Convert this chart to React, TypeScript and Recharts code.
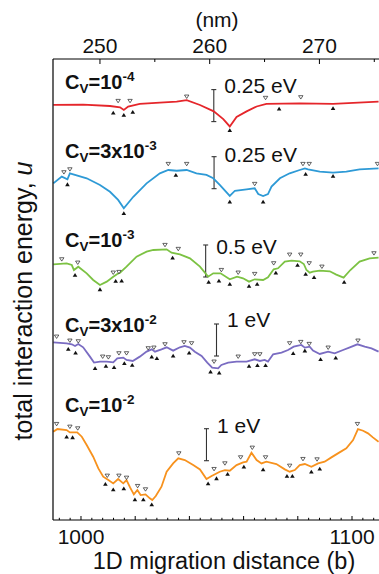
import React from 'react';
import { ComposedChart, Line, Scatter, XAxis, YAxis, ReferenceLine, Customized } from 'recharts';

const FONT = "'Liberation Sans', Arial, Helvetica, sans-serif";

// x = 1D migration distance (b), u = total interaction energy (eV, relative per trace)
const redTrace: [number, number][] = [
  [989.8, 0], [1000.8, 0.002], [1010.7, -0.008], [1014.4, -0.018], [1015.8, -0.039], [1017.4, -0.013],
  [1021.7, 0.008], [1029.1, 0.018], [1035.3, 0.026], [1039.0, 0.037], [1043.9, 0.0], [1049.0, -0.05],
  [1052.5, -0.11], [1054.9, -0.168], [1057.4, -0.094], [1061.1, -0.05], [1064.8, -0.012], [1068.4, 0.008],
  [1080.7, 0.013], [1093.0, 0.008], [1109.8, 0.026],
];
const redMax: [number, number][] = [[1013.7, 0.031], [1018.1, 0.031], [1039.0, 0.065], [1068.1, 0.055], [1081.1, 0.06]];
const redMin: [number, number][] = [[1011.9, -0.06], [1015.8, -0.078], [1019.1, -0.055], [1054.9, -0.198], [1073.1, -0.03], [1093.0, -0.026]];

const blueTrace: [number, number][] = [
  [989.8, 0], [992.9, 0.052], [995.0, 0.031], [995.9, 0.078], [1002.1, 0.039], [1007.0, -0.013],
  [1010.7, -0.066], [1013.7, -0.13], [1015.8, -0.195], [1019.3, -0.105], [1024.2, 0], [1029.1, 0.078],
  [1032.2, 0.104], [1035.3, 0.098], [1039.0, 0.104], [1042.6, 0.078], [1046.3, 0.065], [1048.8, 0.039],
  [1051.2, -0.013], [1054.9, -0.099], [1056.8, -0.058], [1061.1, -0.047], [1064.1, -0.039], [1065.4, -0.084],
  [1067.2, -0.099], [1069.0, -0.084], [1070.3, -0.026], [1073.4, 0.039], [1077.0, 0.078], [1080.7, 0.104],
  [1082.6, 0.117], [1083.8, 0.109], [1088.1, 0.091], [1093.0, 0.083], [1097.9, 0.091], [1102.8, 0.109],
  [1109.8, 0.117],
];
const blueMax: [number, number][] = [[993.7, 0.086], [995.9, 0.109], [1032.2, 0.151], [1039.0, 0.151], [1064.1, -0.005], [1081.9, 0.151], [1084.2, 0.151], [1109.4, 0.151]];
const blueMin: [number, number][] = [[995.0, -0.008], [1015.8, -0.234], [1035.0, 0.065], [1054.9, -0.144], [1067.2, -0.144], [1082.9, 0.073], [1093.0, 0.057]];

const greenTrace: [number, number][] = [
  [989.8, 0], [994.7, 0.016], [996.6, -0.011], [997.4, -0.089], [999.0, -0.037], [1002.1, -0.141],
  [1004.5, -0.245], [1007.0, -0.323], [1009.5, -0.271], [1011.9, -0.193], [1013.4, -0.151], [1014.4, -0.13],
  [1016.8, -0.037], [1020.5, 0.12], [1024.2, 0.198], [1026.7, 0.224], [1031.6, 0.234], [1033.4, 0.182],
  [1036.5, 0.156], [1040.2, 0.094], [1043.9, -0.037], [1046.9, -0.193], [1048.8, -0.141], [1051.5, -0.141],
  [1054.9, -0.234], [1057.6, -0.193], [1059.8, -0.219], [1062.0, -0.271], [1064.1, -0.234], [1067.2, -0.245],
  [1069.0, -0.203], [1071.1, -0.078], [1072.7, -0.062], [1075.2, 0.042], [1077.7, 0.057], [1080.7, 0.047],
  [1082.2, 0.005], [1083.2, -0.089], [1084.4, -0.13], [1085.6, -0.115], [1088.1, -0.099], [1091.8, -0.109],
  [1094.2, -0.161], [1096.9, -0.208], [1099.4, -0.089], [1102.8, 0.042], [1106.5, 0.094], [1109.8, 0.104],
];
const greenMax: [number, number][] = [
  [992.9, 0.078], [998.8, 0.026], [1011.9, -0.13], [1014.0, -0.12], [1031.0, 0.302], [1035.9, 0.24],
  [1051.8, -0.089], [1058.0, -0.13], [1064.1, -0.151], [1071.1, 0.016], [1077.0, 0.151], [1081.1, 0.151],
  [1084.2, 0.016], [1088.9, -0.037], [1108.1, 0.172],
];
const greenMin: [number, number][] = [
  [997.8, -0.167], [1007.0, -0.391], [1012.8, -0.261], [1015.0, -0.255], [1033.8, 0.104], [1047.1, -0.276],
  [1050.9, -0.255], [1054.9, -0.307], [1062.0, -0.339], [1065.0, -0.307], [1071.9, -0.13], [1079.9, -0.011],
  [1082.9, -0.151], [1086.0, -0.203], [1097.1, -0.276],
];

const purpleTrace: [number, number][] = [
  [989.8, 0], [994.7, -0.031], [996.6, -0.063], [997.8, -0.115], [999.0, -0.052], [1000.8, -0.156],
  [1003.3, -0.448], [1004.8, -0.635], [1007.0, -0.604], [1009.5, -0.604], [1011.9, -0.625], [1013.4, -0.5],
  [1015.6, -0.479], [1016.8, -0.552], [1019.1, -0.583], [1021.7, -0.448], [1024.2, -0.292], [1026.1, -0.219],
  [1027.3, -0.292], [1029.7, -0.219], [1031.6, -0.156], [1034.0, -0.26], [1036.5, -0.156], [1038.3, -0.115],
  [1040.2, -0.167], [1042.0, -0.292], [1044.5, -0.427], [1046.6, -0.635], [1048.4, -0.792], [1050.6, -0.813],
  [1051.8, -0.708], [1054.3, -0.635], [1057.4, -0.604], [1061.1, -0.604], [1064.1, -0.531], [1066.0, -0.583],
  [1067.8, -0.552], [1069.0, -0.604], [1070.9, -0.375], [1074.0, -0.323], [1076.4, -0.24], [1078.5, -0.135],
  [1081.3, -0.083], [1082.6, -0.167], [1084.4, -0.135], [1085.6, -0.26], [1088.1, -0.365], [1091.2, -0.292],
  [1093.6, -0.344], [1096.7, -0.24], [1099.2, -0.156], [1102.0, -0.063], [1104.7, -0.135], [1107.2, -0.188],
  [1109.8, -0.292],
];
const purpleMax: [number, number][] = [
  [991.0, 0.177], [995.9, 0.052], [999.0, 0.031], [1008.0, -0.448], [1010.1, -0.469], [1014.0, -0.344],
  [1016.8, -0.344], [1024.8, -0.188], [1026.9, -0.167], [1031.0, -0.063], [1038.0, 0], [1040.8, -0.031],
  [1049.1, -0.604], [1058.0, -0.448], [1064.1, -0.375], [1066.0, -0.375], [1077.0, -0.031], [1081.1, 0.01],
  [1084.2, -0.052], [1091.2, -0.167], [1102.2, 0.052],
];
const purpleMin: [number, number][] = [
  [995.3, -0.208], [998.0, -0.323], [1005.2, -0.813], [1009.2, -0.74], [1012.2, -0.781], [1016.0, -0.656],
  [1018.9, -0.708], [1026.1, -0.448], [1028.0, -0.5], [1034.0, -0.417], [1039.9, -0.323], [1047.8, -0.917],
  [1051.0, -0.948], [1062.0, -0.74], [1065.1, -0.719], [1068.1, -0.719], [1078.3, -0.344], [1082.6, -0.26],
  [1088.4, -0.531], [1094.0, -0.479],
];

const orangeTrace: [number, number][] = [
  [989.8, 0], [991.3, 0.083], [994.7, 0.052], [995.9, -0.021], [998.6, -0.021], [1000.3, -0.156],
  [1002.1, -0.417], [1004.5, -0.781], [1006.4, -1.146], [1008.2, -1.406], [1010.1, -1.51], [1011.9, -1.615],
  [1013.7, -1.479], [1015.6, -1.615], [1016.8, -1.51], [1018.1, -1.74], [1019.5, -1.958], [1020.8, -1.823],
  [1022.0, -1.979], [1023.8, -1.958], [1025.4, -2.083], [1026.3, -2.135], [1027.6, -2.01], [1029.7, -1.719],
  [1031.6, -1.25], [1034.0, -0.99], [1035.9, -0.833], [1038.3, -0.885], [1041.4, -1.042], [1043.9, -1.177],
  [1046.3, -1.479], [1048.2, -1.385], [1051.2, -1.25], [1053.1, -1.198], [1054.9, -1.219], [1057.4, -1.042],
  [1059.8, -0.958], [1061.1, -0.938], [1062.9, -0.656], [1064.8, -0.885], [1066.6, -0.99], [1068.4, -0.938],
  [1072.1, -1.01], [1075.2, -1.177], [1077.0, -1.25], [1078.9, -1.198], [1080.7, -1.042], [1082.6, -1.01],
  [1085.0, -1.094], [1087.5, -0.99], [1089.9, -0.938], [1092.4, -0.802], [1094.8, -0.677], [1097.9, -0.521],
  [1100.4, -0.26], [1102.2, 0.083], [1104.1, 0.031], [1105.9, -0.052], [1107.7, -0.177], [1109.8, -0.313],
];
const orangeMax: [number, number][] = [
  [991.0, 0.24], [995.9, 0.156], [998.8, 0.104], [1009.7, -1.375], [1014.0, -1.375], [1016.8, -1.438],
  [1020.9, -1.698], [1023.8, -1.802], [1036.1, -0.677], [1049.1, -1.167], [1053.1, -0.99], [1058.9, -0.802],
  [1063.2, -0.5], [1068.1, -0.802], [1077.0, -1.063], [1081.9, -0.854], [1087.1, -0.865], [1102.0, 0.24],
];
const orangeMin: [number, number][] = [
  [994.7, -0.156], [996.9, -0.177], [1009.0, -1.635], [1011.9, -1.802], [1015.8, -1.771], [1019.9, -2.115],
  [1023.0, -2.115], [1026.1, -2.271], [1046.9, -1.615], [1050.0, -1.458], [1054.1, -1.323], [1060.1, -1.094],
  [1067.2, -1.177], [1076.0, -1.385], [1078.0, -1.385], [1085.0, -1.25], [1088.1, -1.156],
];

// scale bars (x position in b, lower/upper energy in eV) and labels
const scaleBarB = [1049.0, 1049.1, 1046.0, 1050.0, 1046.3];
const scaleBarLo = [-0.13, -0.042, -0.198, -0.428, -0.906];
const scaleBarHi = [0.12, 0.208, 0.302, 0.572, 0.094];
const scaleBarText = ['0.25 eV', '0.25 eV', '0.5 eV', '1 eV', '1 eV'];

// C_V labels: mantissa and exponent
const cvMantissa = ['10', '3x10', '10', '3x10', '10'];
const cvExponent = ['-4', '-3', '-3', '-2', '-2'];

// axis ticks
const bottomTicks = [992, 996, 1000, 1004, 1008, 1012, 1016, 1020, 1024, 1028, 1032, 1036, 1040, 1044, 1048, 1052, 1056, 1060, 1064, 1068, 1072, 1076, 1080, 1084, 1088, 1092, 1096, 1100, 1104, 1108];
const bottomMajor = [1000, 1020, 1040, 1060, 1080, 1100];
const bottomLabels = [1000, 1100];
const topTicks = [250, 255, 260, 265, 270, 275];
const topLabels = [250, 260, 270];

const toRows = (arr: [number, number][]) => arr.map(([b, u]) => ({ b, u }));
const topTickRows = topTicks.map((nm) => ({ nm, u: 0 }));

const SERIES = [
  { id: 'red', trace: redTrace, max: redMax, min: redMin, color: '#e5262b', domain: [-3.242, 0.359], labelY: 89, labelDy: 3 },
  { id: 'blue', trace: blueTrace, max: blueMax, min: blueMin, color: '#2e9ad6', domain: [-2.63, 0.971], labelY: 158, labelDy: 5 },
  { id: 'green', trace: greenTrace, max: greenMax, min: greenMin, color: '#7cc243', domain: [-3.995, 3.208], labelY: 247, labelDy: 9 },
  { id: 'purple', trace: purpleTrace, max: purpleMax, min: purpleMin, color: '#7a6cc2', domain: [-5.553, 8.853], labelY: 332, labelDy: 3 },
  { id: 'orange', trace: orangeTrace, max: orangeMax, min: orangeMin, color: '#f7921e', domain: [-2.759, 11.647], labelY: 412, labelDy: 4 },
];

const OpenTri = (p: any) => {
  const { cx, cy } = p;
  if (cx == null || cy == null) return <g />;
  return (
    <polygon
      points={`${cx - 2.2},${cy - 1.6} ${cx + 2.2},${cy - 1.6} ${cx},${cy + 1.8}`}
      fill="#fff"
      stroke="#222"
      strokeWidth={0.7}
    />
  );
};

const FilledTri = (p: any) => {
  const { cx, cy } = p;
  if (cx == null || cy == null) return <g />;
  return <polygon points={`${cx - 2.3},${cy + 1.8} ${cx + 2.3},${cy + 1.8} ${cx},${cy - 2}`} fill="#111" />;
};

const Invisible = () => <g />;

// inward tick mark drawn from a full-height reference line
const makeTickShape = (len: number, side: 'top' | 'bottom') => (p: any) => {
  const { x1, y1, y2 } = p;
  if (x1 == null || y1 == null || y2 == null) return <g />;
  const top = Math.min(y1, y2);
  const bot = Math.max(y1, y2);
  return side === 'bottom' ? (
    <line x1={x1} x2={x1} y1={bot} y2={bot - len} stroke="#000" strokeWidth={1} />
  ) : (
    <line x1={x1} x2={x1} y1={top} y2={top + len} stroke="#000" strokeWidth={1} />
  );
};

const BottomLabel = (props: any) => {
  const { x, payload } = props;
  const v = payload.value;
  if (!bottomLabels.includes(v)) return <g />;
  return (
    <text x={x} y={543.5} textAnchor="middle" fontSize={21} fontFamily={FONT} fill="#111">
      {v}
    </text>
  );
};

const TopLabel = (props: any) => {
  const { x, payload } = props;
  const v = payload.value;
  if (!topLabels.includes(v)) return <g />;
  return (
    <text x={x} y={53} textAnchor="middle" fontSize={21} fontFamily={FONT} fill="#111">
      {v}
    </text>
  );
};

const makeBarShape = (text: string, dy: number) => (p: any) => {
  const { x1, y1, x2, y2 } = p;
  if (x1 == null) return <g />;
  const top = Math.min(y1, y2);
  const bot = Math.max(y1, y2);
  return (
    <g>
      <line x1={x1} x2={x2} y1={top} y2={bot} stroke="#333" strokeWidth={1.1} />
      <line x1={x1 - 2.5} x2={x1 + 2.5} y1={top} y2={top} stroke="#333" strokeWidth={1.1} />
      <line x1={x1 - 2.5} x2={x1 + 2.5} y1={bot} y2={bot} stroke="#333" strokeWidth={1.1} />
      <text x={x1 + 10.5} y={top + dy} fontSize={21} fontFamily={FONT} fill="#111">
        {text}
      </text>
    </g>
  );
};

const Annotations = () => (
  <g fontFamily={FONT} fill="#111">
    <text x={217} y={27} textAnchor="middle" fontSize={21}>(nm)</text>
    <text x={224} y={569} textAnchor="middle" fontSize={23.5}>1D migration distance (b)</text>
    <text x={32} y={301} textAnchor="middle" fontSize={25} transform="rotate(-90 32 301)">
      total interaction energy, <tspan fontStyle="italic">u</tspan>
    </text>
    {SERIES.map((s, i) => (
      <text key={s.id} x={65} y={s.labelY} fontSize={20} fontWeight="bold">
        C
        <tspan fontSize={13.5} dy={4}>V</tspan>
        <tspan dy={-4}>={cvMantissa[i]}</tspan>
        <tspan fontSize={13.5} dy={-8}>{cvExponent[i]}</tspan>
      </text>
    ))}
  </g>
);

const B_DOMAIN = [989.67, 1109.96];

export default function App() {
  return (
    <div style={{ position: 'absolute', left: 0, top: 0, width: 379, height: 574, background: '#fff' }}>
      <ComposedChart width={379} height={574} margin={{ top: 29, right: 0, bottom: 24, left: 43 }}>
        <XAxis
          xAxisId="b"
          dataKey="b"
          type="number"
          orientation="bottom"
          domain={B_DOMAIN}
          allowDataOverflow
          ticks={bottomLabels}
          interval={0}
          tick={BottomLabel}
          tickLine={false}
          tickSize={0}
          tickMargin={0}
          height={30}
          axisLine={{ stroke: '#000', strokeWidth: 1 }}
        />
        <XAxis
          xAxisId="nm"
          dataKey="nm"
          orientation="top"
          type="number"
          domain={[245.72, 275.43]}
          allowDataOverflow
          ticks={topLabels}
          interval={0}
          tick={TopLabel}
          tickLine={false}
          tickSize={0}
          tickMargin={0}
          height={30}
          axisLine={{ stroke: '#000', strokeWidth: 1 }}
        />
        {SERIES.map((s, i) => (
          <YAxis
            key={'ax-' + s.id}
            yAxisId={s.id}
            dataKey="u"
            type="number"
            domain={s.domain}
            allowDataOverflow
            hide={i !== 0}
            width={i === 0 ? 10 : 0}
            tick={false}
            tickLine={false}
            axisLine={{ stroke: '#000', strokeWidth: 1.2 }}
          />
        ))}
        {bottomTicks.map((t) => (
          <ReferenceLine
            key={'bt-' + t}
            xAxisId="b"
            yAxisId="red"
            x={t}
            shape={makeTickShape(bottomMajor.includes(t) ? 4 : 2.2, 'bottom')}
          />
        ))}
        {topTicks.map((t) => (
          <ReferenceLine
            key={'tt-' + t}
            xAxisId="nm"
            yAxisId="red"
            x={t}
            shape={makeTickShape(topLabels.includes(t) ? 5 : 3, 'top')}
          />
        ))}
        {SERIES.map((s, i) => (
          <ReferenceLine
            key={'bar-' + s.id}
            xAxisId="b"
            yAxisId={s.id}
            segment={[
              { x: scaleBarB[i], y: scaleBarLo[i] },
              { x: scaleBarB[i], y: scaleBarHi[i] },
            ]}
            shape={makeBarShape(scaleBarText[i], s.labelDy)}
          />
        ))}
        {SERIES.map((s) => (
          <Line
            key={'line-' + s.id}
            data={toRows(s.trace)}
            dataKey="u"
            xAxisId="b"
            yAxisId={s.id}
            type="linear"
            stroke={s.color}
            strokeWidth={1.8}
            dot={false}
            activeDot={false}
            isAnimationActive={false}
          />
        ))}
        {SERIES.map((s) => (
          <Scatter
            key={'max-' + s.id}
            data={toRows(s.max)}
            dataKey="u"
            xAxisId="b"
            yAxisId={s.id}
            shape={OpenTri}
            isAnimationActive={false}
          />
        ))}
        {SERIES.map((s) => (
          <Scatter
            key={'min-' + s.id}
            data={toRows(s.min)}
            dataKey="u"
            xAxisId="b"
            yAxisId={s.id}
            shape={FilledTri}
            isAnimationActive={false}
          />
        ))}
        <Scatter
          data={topTickRows}
          dataKey="u"
          xAxisId="nm"
          yAxisId="red"
          shape={Invisible}
          isAnimationActive={false}
        />
        <Customized component={Annotations} />
      </ComposedChart>
    </div>
  );
}
